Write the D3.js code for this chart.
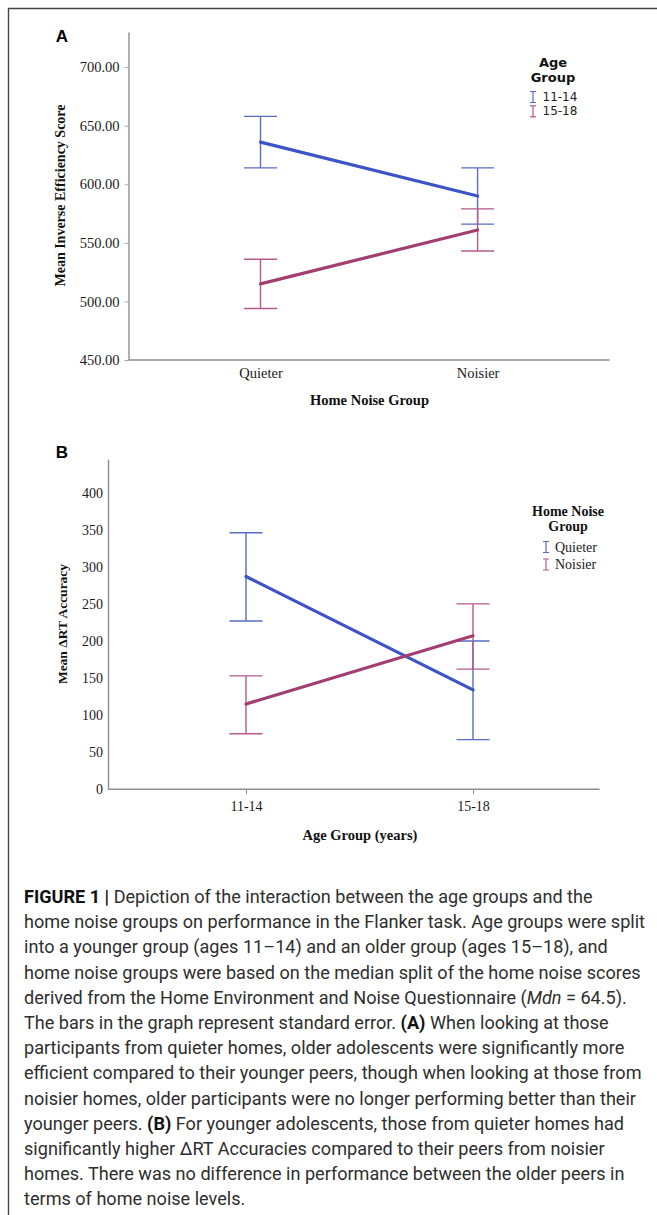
<!DOCTYPE html>
<html>
<head>
<meta charset="utf-8">
<script src="https://cdn.jsdelivr.net/npm/d3@7"></script>
<style>
  body { margin: 0; background: #fff; }
</style>
</head>
<body>
<div id="chart"></div>
<script>
// ---- Panel A: inverse efficiency by home noise group ----
const noiseGroups = ["Quieter", "Noisier"];
const ageLegend = ["11-14", "15-18"];
const ieYoungMean = [636, 590];
const ieYoungLow = [614, 566];
const ieYoungHigh = [658, 614];
const ieOldMean = [515, 561];
const ieOldLow = [494, 543];
const ieOldHigh = [536, 579];
const ieTicks = [450, 500, 550, 600, 650, 700];

// ---- Panel B: delta RT accuracy by age group ----
const ageGroups = ["11-14", "15-18"];
const noiseLegend = ["Quieter", "Noisier"];
const rtQuietMean = [287, 134];
const rtQuietLow = [227, 67];
const rtQuietHigh = [346, 200];
const rtNoisyMean = [115, 207];
const rtNoisyLow = [75, 162];
const rtNoisyHigh = [153, 250];
const rtTicks = [0, 50, 100, 150, 200, 250, 300, 350, 400];

// caption, one entry per printed line; segments are [text, style]
const captionLines = [
  [["FIGURE 1 | ", "b"], ["Depiction of the interaction between the age groups and the", ""]],
  [["home noise groups on performance in the Flanker task. Age groups were split", ""]],
  [["into a younger group (ages 11\u201314) and an older group (ages 15\u201318), and", ""]],
  [["home noise groups were based on the median split of the home noise scores", ""]],
  [["derived from the Home Environment and Noise Questionnaire (", ""], ["Mdn", "i"], [" = 64.5).", ""]],
  [["The bars in the graph represent standard error. ", ""], ["(A)", "b"], [" When looking at those", ""]],
  [["participants from quieter homes, older adolescents were significantly more", ""]],
  [["efficient compared to their younger peers, though when looking at those from", ""]],
  [["noisier homes, older participants were no longer performing better than their", ""]],
  [["younger peers. ", ""], ["(B)", "b"], [" For younger adolescents, those from quieter homes had", ""]],
  [["significantly higher \u0394RT Accuracies compared to their peers from noisier", ""]],
  [["homes. There was no difference in performance between the older peers in", ""]],
  [["terms of home noise levels.", ""]]
];

const W = 657, H = 1215;
const serif = "'Liberation Serif', 'Times New Roman', serif";
const blue = "#3b55c6", blueBar = "#5a6cc4";
const plum = "#a23f70", plumBar = "#b65a8c";
const axisGrey = "#8e8e8e";

const svg = d3.select("#chart")
  .append("svg")
  .attr("width", W)
  .attr("height", H)
  .style("display", "block");

// figure frame (top and left edges only, like the cropped page)
svg.append("path")
  .attr("d", `M${W},8.5 H8.5 V${H}`)
  .attr("fill", "none")
  .attr("stroke", "#444")
  .attr("stroke-width", 1.4);

function drawPanel(p) {
  const g = svg.append("g");

  const x = d3.scalePoint()
    .domain(p.cats)
    .range(p.xRange)
    .padding(0.608);

  const y = d3.scaleLinear()
    .domain(p.yDomain)
    .range(p.yRange);

  // panel letter
  g.append("text")
    .attr("x", p.letterPos[0])
    .attr("y", p.letterPos[1])
    .attr("text-anchor", "middle")
    .style("font-family", "'Liberation Sans', Arial, sans-serif")
    .style("font-weight", "700")
    .style("font-size", "17px")
    .text(p.letter);

  // y axis
  const yAxis = g.append("g")
    .attr("transform", `translate(${p.xRange[0]},0)`)
    .call(d3.axisLeft(y)
      .tickValues(p.ticks)
      .tickFormat(p.tickFormat)
      .tickSize(p.yTickSize)
      .tickPadding(p.yTickPad)
      .tickSizeOuter(0));
  yAxis.select(".domain").attr("stroke", axisGrey).attr("stroke-width", 1.4);
  yAxis.selectAll(".tick line").attr("stroke", "#aaa").attr("stroke-width", 1);
  yAxis.selectAll("text")
    .style("font-family", serif)
    .style("font-size", p.tickFontSize)
    .attr("fill", "#1a1a1a");

  // x axis
  const xAxis = g.append("g")
    .attr("transform", `translate(0,${p.yRange[0]})`)
    .call(d3.axisBottom(x)
      .tickSize(p.xTickSize)
      .tickPadding(p.xTickPad));
  xAxis.select(".domain").remove();
  xAxis.selectAll(".tick line").attr("stroke", axisGrey).attr("stroke-width", 1);
  xAxis.selectAll("text")
    .style("font-family", serif)
    .style("font-size", p.tickFontSize)
    .attr("fill", "#1a1a1a");

  g.append("line")
    .attr("x1", p.xRange[0])
    .attr("x2", p.axisEnd)
    .attr("y1", p.yRange[0])
    .attr("y2", p.yRange[0])
    .attr("stroke", axisGrey)
    .attr("stroke-width", 1.4);

  // axis titles
  g.append("text")
    .attr("x", p.xTitlePos[0])
    .attr("y", p.xTitlePos[1])
    .attr("text-anchor", "middle")
    .style("font-family", serif)
    .style("font-weight", "700")
    .style("font-size", "14.5px")
    .attr("fill", "#111")
    .text(p.xTitle);

  g.append("text")
    .attr("transform", `translate(${p.yTitlePos[0]},${p.yTitlePos[1]}) rotate(-90)`)
    .attr("text-anchor", "middle")
    .attr("dominant-baseline", "central")
    .style("font-family", serif)
    .style("font-weight", "700")
    .style("font-size", p.yTitleSize)
    .attr("fill", "#111")
    .text(p.yTitle);

  // error bars first, mean lines on top
  const cap = 16.5;
  p.series.forEach(s => {
    const bars = g.append("g")
      .attr("stroke", s.barColor)
      .attr("stroke-width", 1.4)
      .attr("fill", "none");
    p.cats.forEach((c, i) => {
      const cx = x(c);
      bars.append("path")
        .attr("d", `M${cx},${y(s.high[i])} V${y(s.low[i])}` +
          ` M${cx - cap},${y(s.high[i])} H${cx + cap}` +
          ` M${cx - cap},${y(s.low[i])} H${cx + cap}`);
    });
  });

  p.series.forEach(s => {
    const line = d3.line()
      .x((d, i) => x(p.cats[i]))
      .y(d => y(d));
    g.append("path")
      .datum(s.mean)
      .attr("d", line)
      .attr("fill", "none")
      .attr("stroke", s.color)
      .attr("stroke-width", 3.2)
      .attr("stroke-linecap", "round");
  });

  // legend
  const lg = g.append("g");
  p.legendTitle.forEach((t, i) => {
    lg.append("text")
      .attr("x", p.legendTitleX)
      .attr("y", p.legendTitleY + i * p.legendTitleStep)
      .attr("text-anchor", "middle")
      .style("font-family", p.legendTitleFont)
      .style("font-weight", "700")
      .style("font-size", p.legendTitleSize)
      .attr("fill", "#111")
      .text(t);
  });
  p.series.forEach((s, i) => {
    const cy = p.legendItemY + i * p.legendItemStep;
    const ix = p.legendIconX;
    lg.append("path")
      .attr("d", `M${ix - 3},${cy - 5.5} H${ix + 3} M${ix},${cy - 5.5} V${cy + 5.5} M${ix - 3},${cy + 5.5} H${ix + 3}`)
      .attr("stroke", s.barColor)
      .attr("stroke-width", 1.2)
      .attr("fill", "none");
    lg.append("text")
      .attr("x", p.legendTextX)
      .attr("y", cy)
      .attr("dominant-baseline", "central")
      .style("font-family", p.legendItemFont)
      .style("font-size", p.legendItemSize)
      .attr("fill", "#222")
      .text(s.name);
  });
}

drawPanel({
  letter: "A",
  letterPos: [62, 42],
  cats: noiseGroups,
  xRange: [128.5, 609.6],
  axisEnd: 609.6,
  yDomain: [450, 730],
  yRange: [360, 32],
  ticks: ieTicks,
  tickFormat: d3.format(".2f"),
  tickFontSize: "14.5px",
  yTickSize: 4,
  yTickPad: 5,
  xTickSize: 0,
  xTickPad: 8,
  xTitle: "Home Noise Group",
  xTitlePos: [369.5, 405],
  yTitle: "Mean Inverse Efficiency Score",
  yTitlePos: [60.5, 195.5],
  yTitleSize: "14px",
  series: [
    { name: ageLegend[0], mean: ieYoungMean, low: ieYoungLow, high: ieYoungHigh, color: blue, barColor: blueBar },
    { name: ageLegend[1], mean: ieOldMean, low: ieOldLow, high: ieOldHigh, color: plum, barColor: plumBar }
  ],
  legendTitle: ["Age", "Group"],
  legendTitleX: 553,
  legendTitleY: 67,
  legendTitleStep: 14.5,
  legendTitleFont: "'DejaVu Sans', Verdana, sans-serif",
  legendTitleSize: "13px",
  legendIconX: 533,
  legendTextX: 542.5,
  legendItemY: 97,
  legendItemStep: 14.3,
  legendItemFont: "'DejaVu Sans', Verdana, sans-serif",
  legendItemSize: "12px"
});

drawPanel({
  letter: "B",
  letterPos: [62, 458],
  cats: ageGroups,
  xRange: [108, 611],
  axisEnd: 599.6,
  yDomain: [0, 445],
  yRange: [789.3, 459.3],
  ticks: rtTicks,
  tickFormat: d3.format("d"),
  tickFontSize: "14px",
  yTickSize: 0,
  yTickPad: 5,
  xTickSize: 5,
  xTickPad: 7,
  xTitle: "Age Group (years)",
  xTitlePos: [360, 840],
  yTitle: "Mean \u0394RT Accuracy",
  yTitlePos: [62, 624],
  yTitleSize: "13.5px",
  series: [
    { name: noiseLegend[0], mean: rtQuietMean, low: rtQuietLow, high: rtQuietHigh, color: blue, barColor: blueBar },
    { name: noiseLegend[1], mean: rtNoisyMean, low: rtNoisyLow, high: rtNoisyHigh, color: plum, barColor: plumBar }
  ],
  legendTitle: ["Home Noise", "Group"],
  legendTitleX: 568,
  legendTitleY: 515.5,
  legendTitleStep: 15.5,
  legendTitleFont: serif,
  legendTitleSize: "14px",
  legendIconX: 546,
  legendTextX: 555,
  legendItemY: 547,
  legendItemStep: 17.5,
  legendItemFont: serif,
  legendItemSize: "14px"
});

// caption
const capFont = 17.5;
const cap = svg.append("g")
  .style("font-family", "Roboto, 'Liberation Sans', Arial, sans-serif")
  .style("font-size", capFont + "px")
  .attr("fill", "#2e2e2e");

const capTexts = captionLines.map((segs, i) => {
  const t = cap.append("text")
    .attr("x", 24)
    .attr("y", 903 + i * 25.2);
  segs.forEach(([str, st]) => {
    const ts = t.append("tspan").text(str);
    if (st === "b") ts.style("font-weight", "700").attr("fill", "#111");
    if (st === "i") ts.style("font-style", "italic");
  });
  return t;
});

// the print uses a condensed face: narrow every line by the factor
// that makes the widest line span the same width as in the print
const squeeze = 621 / capTexts[1].node().getComputedTextLength();
capTexts.forEach(t => {
  const len = t.node().getComputedTextLength();
  t.attr("textLength", (len * squeeze).toFixed(1))
    .attr("lengthAdjust", "spacingAndGlyphs");
});
</script>
</body>
</html>
